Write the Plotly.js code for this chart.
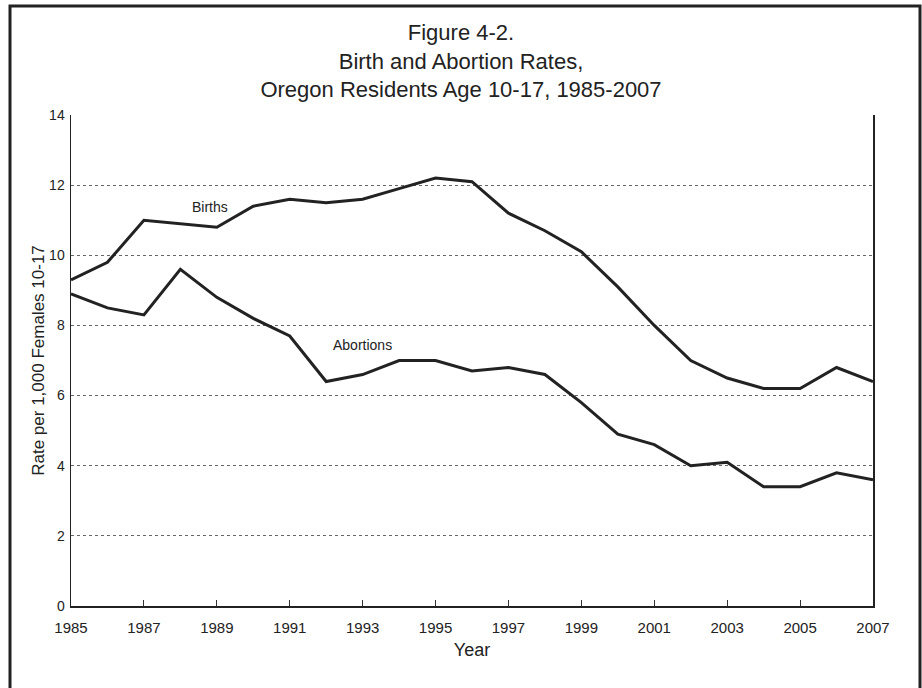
<!DOCTYPE html>
<html>
<head>
<meta charset="utf-8">
<script src="https://cdn.plot.ly/plotly-3.0.1.min.js"></script>
<style>
  html, body { margin: 0; padding: 0; background: #fff; }
  #chart { width: 922px; height: 688px; }
</style>
</head>
<body>
<div id="chart"></div>
<script>
const years = [1985,1986,1987,1988,1989,1990,1991,1992,1993,1994,1995,1996,1997,1998,1999,2000,2001,2002,2003,2004,2005,2006,2007];
const births = [9.3,9.8,11.0,10.9,10.8,11.4,11.6,11.5,11.6,11.9,12.2,12.1,11.2,10.7,10.1,9.1,8.0,7.0,6.5,6.2,6.2,6.8,6.4];
const abortions = [8.9,8.5,8.3,9.6,8.8,8.2,7.7,6.4,6.6,7.0,7.0,6.7,6.8,6.6,5.8,4.9,4.6,4.0,4.1,3.4,3.4,3.8,3.6];
const xTicks = [1985,1987,1989,1991,1993,1995,1997,1999,2001,2003,2005,2007];
const yTicks = [0,2,4,6,8,10,12,14];
const seriesLabels = [
  {text: "Births", x: 1988.8, y: 11.38},
  {text: "Abortions", x: 1993.0, y: 7.43}
];

const lineStyle = {color: '#222222', width: 3};
const traces = [
  {x: years, y: births, type: 'scatter', mode: 'lines', name: 'Births', line: lineStyle, hoverinfo: 'none'},
  {x: years, y: abortions, type: 'scatter', mode: 'lines', name: 'Abortions', line: lineStyle, hoverinfo: 'none'}
];

const font = "Liberation Sans, Arial, sans-serif";
const layout = {
  width: 922, height: 688,
  margin: {l: 71, r: 49, t: 115, b: 82, pad: 0},
  paper_bgcolor: '#ffffff', plot_bgcolor: '#ffffff',
  showlegend: false,
  font: {family: font, color: '#222222'},
  title: {
    text: "Figure 4-2.<br>Birth and Abortion Rates,<br>Oregon Residents Age 10-17, 1985-2007",
    font: {family: font, size: 22, color: '#222222'},
    x: 0.5, xref: 'container', xanchor: 'center', y: 0.942, yanchor: 'top'
  },
  xaxis: {
    range: [1985, 2007],
    tickvals: xTicks, ticktext: xTicks.map(String),
    ticks: 'inside', ticklen: 6, tickcolor: '#333333', tickwidth: 1,
    ticklabelstandoff: 7,
    showline: true, linecolor: '#222222', linewidth: 1.5, mirror: false,
    showgrid: false, zeroline: false,
    tickfont: {family: font, size: 15, color: '#222222'},
    title: {text: 'Year', font: {family: font, size: 18, color: '#222222'}, standoff: 9}
  },
  yaxis: {
    range: [0, 14],
    tickvals: yTicks, ticktext: yTicks.map(String),
    ticks: '', showline: true, linecolor: '#222222', linewidth: 1.5, mirror: true,
    ticklabelstandoff: 2,
    showgrid: true, gridcolor: '#666666', griddash: 'dot', gridwidth: 1,
    zeroline: false,
    tickfont: {family: font, size: 14, color: '#222222'},
    title: {text: 'Rate per 1,000 Females 10-17', font: {family: font, size: 17, color: '#222222'}, standoff: 0}
  },
  annotations: seriesLabels.map(l => ({
    text: l.text, x: l.x, y: l.y, xref: 'x', yref: 'y', showarrow: false,
    font: {family: font, size: 14, color: '#222222'}
  })),
  shapes: [{
    type: 'rect', xref: 'paper', yref: 'paper',
    x0: (10 - 71) / 802, x1: (920 - 71) / 802,
    y0: (606 - 700) / 491, y1: (606 - 6) / 491,
    line: {color: '#222222', width: 3}, fillcolor: 'rgba(0,0,0,0)', layer: 'below'
  }]
};

Plotly.newPlot('chart', traces, layout, {staticPlot: true, displayModeBar: false});
</script>
</body>
</html>
